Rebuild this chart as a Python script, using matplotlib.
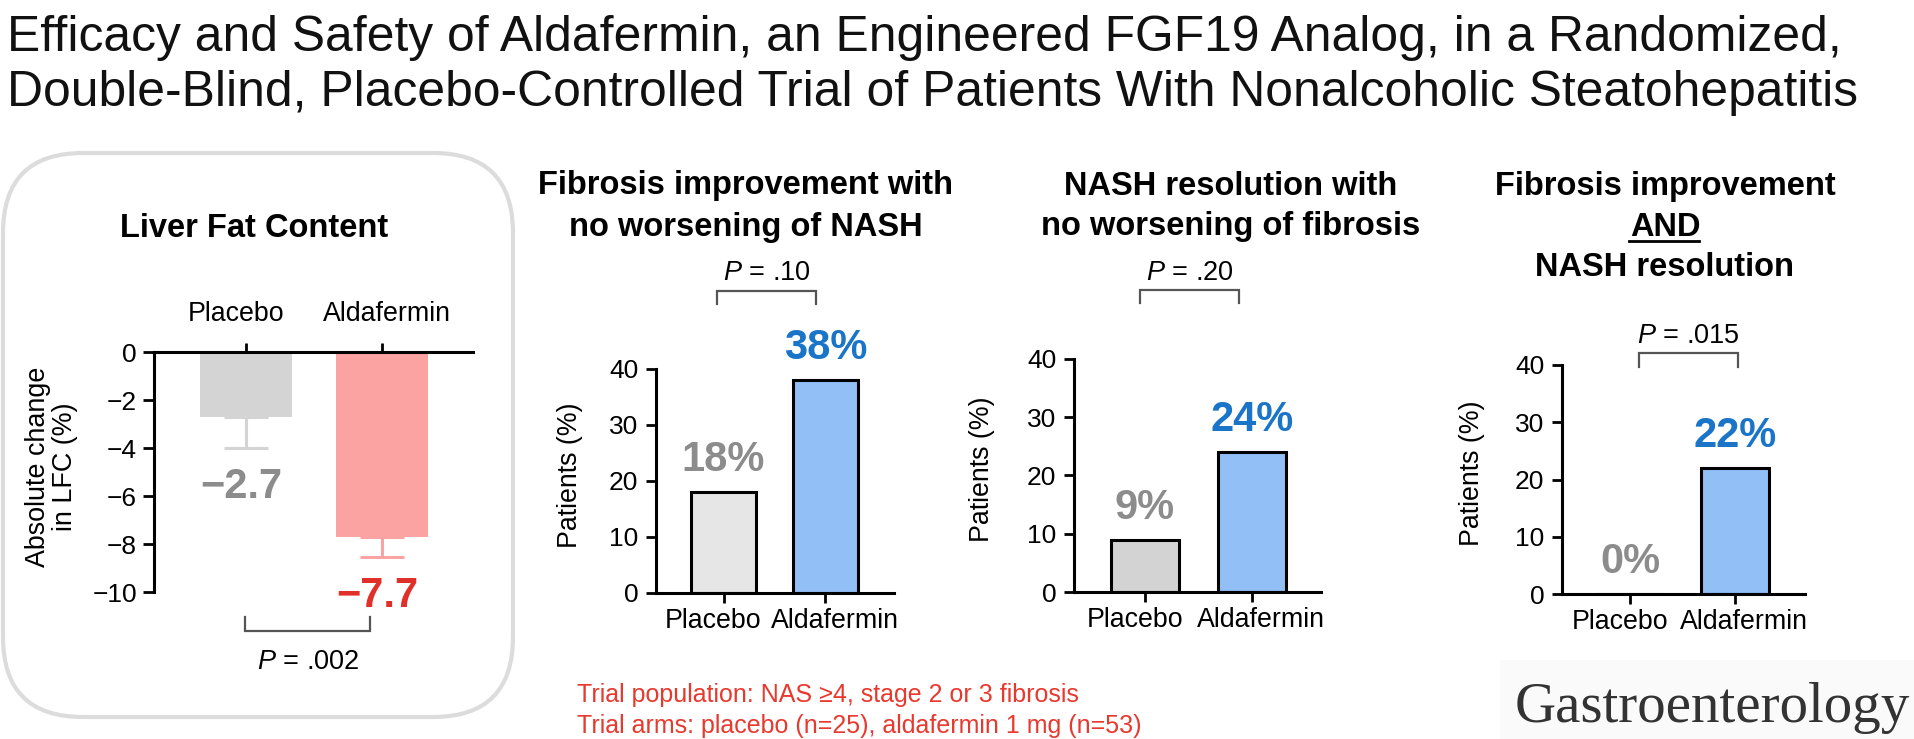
import matplotlib
matplotlib.use('Agg')
import matplotlib.pyplot as plt
from matplotlib.patches import FancyBboxPatch, Rectangle
from matplotlib.transforms import ScaledTranslation

plt.rcParams['font.family'] = ['Liberation Sans', 'DejaVu Sans']
plt.rcParams['mathtext.fontset'] = 'custom'
plt.rcParams['mathtext.rm'] = 'Liberation Sans'
plt.rcParams['mathtext.it'] = 'Liberation Sans:italic'

# ---------------- data ----------------
groups = ['Placebo', 'Aldafermin']
lfc_change = [-2.7, -7.7]          # absolute change in LFC (%)
lfc_sem = [1.3, 0.85]
fibrosis_improve = [18, 38]        # % patients
nash_resolution = [9, 24]
fib_and_nash = [0, 22]
p_lfc, p_fib, p_nash, p_both = '.002', '.10', '.20', '.015'

main_title = ['Efficacy and Safety of Aldafermin, an Engineered FGF19 Analog, in a Randomized,',
              'Double-Blind, Placebo-Controlled Trial of Patients With Nonalcoholic Steatohepatitis']
lfc_title = 'Liver Fat Content'
lfc_ylabel = 'Absolute change\nin LFC (%)'
fib_title = ['Fibrosis improvement with', 'no worsening of NASH']
nash_title = ['NASH resolution with', 'no worsening of fibrosis']
both_title = ['Fibrosis improvement', 'AND', 'NASH resolution']
pct_ylabel = 'Patients (%)'
footnote = ['Trial population: NAS \u22654, stage 2 or 3 fibrosis',
            'Trial arms: placebo (n=25), aldafermin 1 mg (n=53)']
journal = 'Gastroenterology'

# ---------------- styles ----------------
W, H, DPI = 1915, 739, 100
PT = 0.72
GRAY_TXT = '#8c8c8c'
BLUE_TXT = '#1a74c8'
RED_TXT = '#e0302a'
BLUE_FILL = '#92bff6'
LFC_COLORS = ['#d4d4d4', '#fba2a2']
LFC_TXT = [GRAY_TXT, RED_TXT]
FOOT_RED = '#e8392e'
SPINE_LW = 2.2

fig = plt.figure(figsize=(W / DPI, H / DPI), dpi=DPI)
fig.patch.set_facecolor('white')

ov = fig.add_axes([0, 0, 1, 1])
ov.set_xlim(0, W)
ov.set_ylim(H, 0)
ov.axis('off')


def px_axes(x0, y0, x1, y1):
    return fig.add_axes([x0 / W, 1 - y1 / H, (x1 - x0) / W, (y1 - y0) / H])


def shift_labels(labels, dxs):
    for lab, dx in zip(labels, dxs):
        lab.set_transform(lab.get_transform() + ScaledTranslation(dx / DPI, 0, fig.dpi_scale_trans))


def bracket(x0, x1, y_bar, y_end, color='#555555'):
    ov.plot([x0, x0, x1, x1], [y_end, y_bar, y_bar, y_end], color=color, lw=1.6,
            solid_joinstyle='miter')


# ---------------- main title ----------------
ov.text(7, 51, main_title[0], fontsize=35.8, ha='left', va='baseline', color='#111111')
ov.text(7, 106, main_title[1], fontsize=35.8, ha='left', va='baseline', color='#111111')

# ---------------- LFC box ----------------
box = FancyBboxPatch((3, 153), 510, 564, boxstyle='round,pad=0,rounding_size=80',
                     fill=False, edgecolor='#dcdcdc', lw=3.0)
ov.add_patch(box)
ov.text(254, 237, lfc_title, fontsize=23.5, fontweight='bold', ha='center', va='baseline')

ax = px_axes(154, 352, 473, 592)
x = [0, 1]
ax.bar(x, lfc_change, width=0.67, color=LFC_COLORS, zorder=2)
for i in x:
    ax.errorbar(i, lfc_change[i], yerr=[[lfc_sem[i]], [0]], fmt='none', ecolor=LFC_COLORS[i],
                elinewidth=2.2, capsize=15.8, capthick=2.2, zorder=1)
    txt = f'{lfc_change[i]:.1f}'.replace('-', '\u2212')
    ax.annotate(txt, xy=(i, lfc_change[i] - lfc_sem[i]), xytext=(-5 * PT, -50 * PT),
                textcoords='offset points', ha='center', va='baseline', fontsize=30,
                fontweight='bold', color=LFC_TXT[i], annotation_clip=False)
ax.set_xlim(-0.676, 1.669)
ax.set_ylim(-10, 0)
ax.set_yticks(range(-10, 1, 2))
ax.xaxis.tick_top()
ax.set_xticks(x, groups)
for s in ['bottom', 'right']:
    ax.spines[s].set_visible(False)
for s in ['top', 'left']:
    ax.spines[s].set_linewidth(SPINE_LW)
ax.tick_params(axis='x', direction='out', length=6.5, width=2, pad=11.5, labelsize=19.3)
ax.tick_params(axis='y', direction='out', length=7.9, width=2, pad=4.3, labelsize=19)
shift_labels(ax.get_xticklabels(), [-10, 5])
ax.patch.set_alpha(0)
ov.text(52, 467, lfc_ylabel, rotation=90, fontsize=19.4, ha='center', va='center',
        multialignment='center', linespacing=1.05)
bracket(245, 370, 631, 617)
ov.text(308, 669, '$P$ = ' + p_lfc, fontsize=19.5, ha='center', va='baseline')


# ---------------- percent panels ----------------
def pct_panel(rect, xlim, width, values, fills, title_lines, title_cx, title_base,
              p_txt, p_base, br, ylabel_x):
    a = px_axes(*rect)
    a.bar([0, 1], values, width=width, color=fills, edgecolor='black', linewidth=2.2, zorder=2)
    for i, v in enumerate(values):
        a.annotate(f'{v}%', xy=(i, v), xytext=(0, 21 * PT), textcoords='offset points',
                   ha='center', va='baseline', fontsize=30, fontweight='bold',
                   color=[GRAY_TXT, BLUE_TXT][i], annotation_clip=False)
    a.set_xlim(*xlim)
    a.set_ylim(0, 40)
    a.set_yticks(range(0, 41, 10))
    a.set_xticks([0, 1], groups)
    for s in ['top', 'right']:
        a.spines[s].set_visible(False)
    for s in ['bottom', 'left']:
        a.spines[s].set_linewidth(SPINE_LW)
    a.tick_params(axis='x', direction='out', length=7.2, width=2, pad=3.5, labelsize=19.3)
    a.tick_params(axis='y', direction='out', length=7.2, width=2, pad=5.5, labelsize=19)
    shift_labels(a.get_xticklabels(), [-10, 9])
    a.patch.set_alpha(0)
    for line, yb in zip(title_lines, title_base):
        ov.text(title_cx, yb, line, fontsize=23.5, fontweight='bold', ha='center', va='baseline')
    bracket(br[0], br[1], br[2], br[3])
    ov.text((br[0] + br[1]) / 2, p_base, '$P$ = ' + p_txt, fontsize=19.5, ha='center',
            va='baseline')
    ov.text(ylabel_x, (rect[1] + rect[3]) / 2 - 6, pct_ylabel, rotation=90, fontsize=19.3,
            ha='center', va='center')
    return a


pct_panel((656, 369, 894, 593), (-0.662, 1.672), 0.64, fibrosis_improve,
          ['#e6e6e6', BLUE_FILL], fib_title, 746, [194, 236],
          p_fib, 280, (717, 816, 291, 304), 570)
pct_panel((1074, 359, 1321, 592), (-0.664, 1.645), 0.635, nash_resolution,
          ['#d3d3d3', BLUE_FILL], nash_title, 1231, [195, 235],
          p_nash, 280, (1140, 1239, 290, 303), 982)
pct_panel((1562, 365, 1805, 594), (-0.648, 1.667), 0.64, fib_and_nash,
          ['#d3d3d3', BLUE_FILL], both_title, 1665, [195, 236, 276],
          p_both, 343, (1639, 1738, 353, 367), 1472)
ov.plot([1629, 1699], [241, 241], color='black', lw=2.0)

# ---------------- footer ----------------
ov.text(577, 702, footnote[0], fontsize=18, color=FOOT_RED, ha='left', va='baseline')
ov.text(577, 733, footnote[1], fontsize=18, color=FOOT_RED, ha='left', va='baseline')
ov.add_patch(Rectangle((1500, 660), 415, 79, facecolor='#fafafa', edgecolor='none', zorder=0))
ov.text(1910, 722, journal, fontsize=41, family=['Liberation Serif', 'DejaVu Serif'],
        color='#333333', ha='right', va='baseline')

fig.savefig('out.png', dpi=DPI, facecolor='white')
